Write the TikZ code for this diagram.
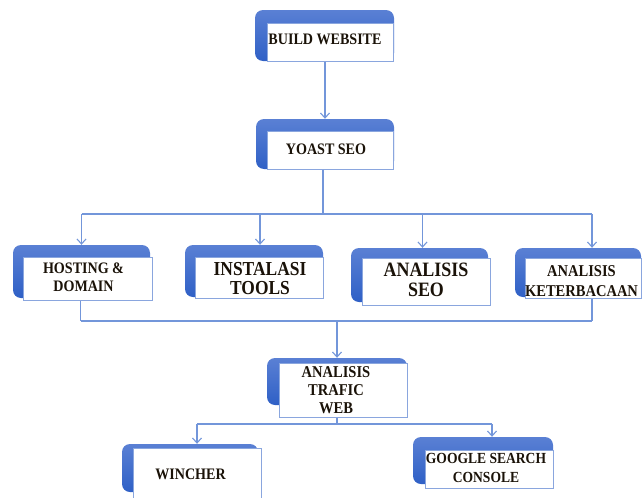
\documentclass[tikz,border=0pt]{standalone}
\usepackage{fontspec}
\setmainfont[FakeStretch=0.88]{Liberation Serif}
\usetikzlibrary{arrows.meta,fit,calc}
\definecolor{boxtop}{HTML}{5A80D4}
\definecolor{boxbot}{HTML}{2F60C6}
\definecolor{linkblue}{HTML}{7396DA}
\definecolor{edgeblue}{HTML}{8AA6DE}
\definecolor{txt}{HTML}{1A1208}
\tikzset{
 backbox/.style={inner sep=0pt, rounded corners=8pt, top color=boxtop, bottom color=boxbot, draw=none},
 frontbox/.style={inner sep=0pt, fill=white, draw=edgeblue, line width=1pt},
 lbl/.style={align=center, inner sep=0pt, text=txt},
 link/.style={draw=linkblue, line width=1.1pt},
 arr/.style={link, -{Straight Barb[length=5pt,width=9pt]}},
}
\newcommand\diabox[8]{%
 \node[backbox, fit={#2 #3}] (#1b) {};
 \node[frontbox, fit={#4 #5}] (#1) {};
 \node[lbl, font=#6] (#1t) at ($(#1.center)+(#8)$) {#7};
}
\newcommand\fs[2]{\fontsize{#1}{#2}\selectfont\bfseries}
\begin{document}
\begin{tikzpicture}[x=1pt,y=-1pt]
\useasboundingbox (0,0) rectangle (643,498);
\diabox{build}{(255,10)}{(394,61)}{(267,23)}{(393,61)}{\fs{16}{17}}{BUILD WEBSITE}{-5,-3}
\diabox{yoast}{(256,119)}{(394,169)}{(267,131)}{(393,169)}{\fs{16}{17}}{YOAST SEO}{-4,-1}
\diabox{host}{(13,245)}{(150,298)}{(23,257)}{(152,300)}{\fs{16}{18}}{HOSTING \&\\DOMAIN}{-4,-1}
\diabox{inst}{(185,245)}{(323,297)}{(195,257)}{(323,298)}{\fs{19.8}{18.5}}{INSTALASI\\TOOLS}{1,1}
\diabox{seo}{(351,248)}{(488,302)}{(362,258)}{(490,305)}{\fs{20.4}{20}}{ANALISIS\\SEO}{0,-2}
\diabox{keter}{(515,248)}{(641,297)}{(525,258)}{(641,298)}{\fs{16.5}{20}}{ANALISIS\\KETERBACAAN}{-1.5,3}
\diabox{trafic}{(267,358)}{(407,405)}{(279,363)}{(407,417)}{\fs{16.5}{18}}{ANALISIS\\TRAFIC\\WEB}{-7,0}
\diabox{winch}{(122,444)}{(258,492)}{(133,448)}{(261,500)}{\fs{16}{17}}{WINCHER}{-6.5,0}
\diabox{google}{(413,437)}{(553,484)}{(425,450)}{(553,488)}{\fs{15.4}{19}}{GOOGLE SEARCH\\CONSOLE}{-3,-1}
% connectors
\coordinate (bus1) at (323,214);
\coordinate (bus2) at (337,321);
\coordinate (bus3) at (337,424);
\draw[arr] (build.south -| yoastb.north) -- (yoastb.north);
\draw[link] ([xshift=-7pt]yoast.south) -- ([xshift=-7pt]yoast.south |- bus1);
\draw[link] (hostb.north |- bus1) -- ([xshift=14pt]keterb.north |- bus1);
\draw[arr] (hostb.north |- bus1) -- (hostb.north);
\draw[arr] ([xshift=6pt]instb.north |- bus1) -- ([xshift=6pt]instb.north);
\draw[arr] ([xshift=3pt]seob.north |- bus1) -- ([xshift=3pt]seob.north);
\draw[arr] ([xshift=14pt]keterb.north |- bus1) -- ([xshift=14pt]keterb.north);
\draw[link] ([xshift=-7pt]host.south) -- ([xshift=-7pt]host.south |- bus2);
\draw[link] ([xshift=9pt]keter.south) -- ([xshift=9pt]keter.south |- bus2);
\draw[link] ([xshift=-7pt]host.south |- bus2) -- ([xshift=9pt]keter.south |- bus2);
\draw[arr] (bus2 -| traficb.north) -- (traficb.north);
\draw[link] (trafic.south -| bus3) -- (bus3);
\draw[link] ([xshift=7pt]winchb.north |- bus3) -- ([xshift=9pt]googleb.north |- bus3);
\draw[arr] ([xshift=7pt]winchb.north |- bus3) -- ([xshift=7pt]winchb.north);
\draw[arr] ([xshift=9pt]googleb.north |- bus3) -- ([xshift=9pt]googleb.north);
\end{tikzpicture}
\end{document}
